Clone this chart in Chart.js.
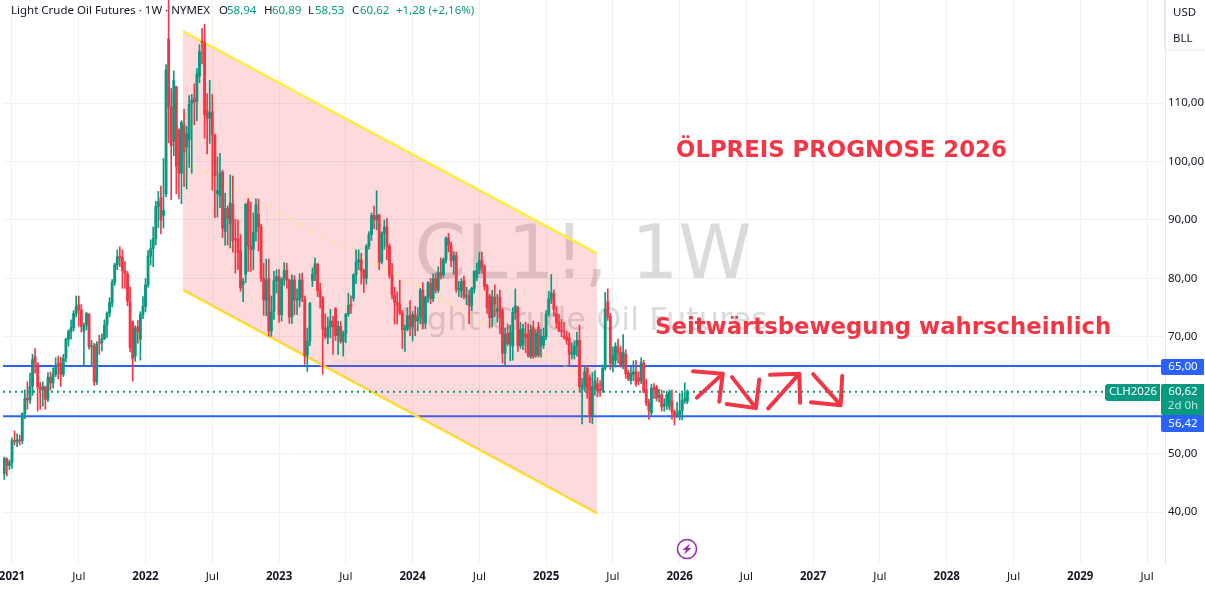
<!DOCTYPE html>
<html>
<head>
<meta charset="utf-8">
<style>
  html, body { margin: 0; padding: 0; background: #fff; overflow: hidden; }
  canvas { display: block; }
</style>
<script src="https://cdn.jsdelivr.net/npm/chart.js@4"></script>
</head>
<body>
<canvas id="chart" width="1205" height="589"></canvas>
<script>
// ── Data (weekly candles, week 0 = first week of 2021) ────────────────────────
const firstWeek = -3;

const opens = [
  46.6,49.1,48.0,48.5,52.3,52.0,52.3,52.2,56.9,59.5,
  59.2,61.6,66.6,65.4,61.4,60.9,61.4,59.3,63.1,62.1,
  63.6,65.5,65.5,63.6,66.4,69.6,70.9,71.6,74.0,75.5,
  74.6,71.0,72.0,73.9,68.3,68.4,62.3,69.0,69.0,69.7,
  72.0,74.0,75.8,79.3,82.3,83.8,83.6,81.3,80.7,76.0,
  72.6,66.7,71.7,69.6,73.8,75.2,78.9,83.8,85.1,86.8,
  92.3,93.8,90.8,94.5,121.0,109.3,103.5,112.8,105.4,98.0,
  106.2,102.5,103.7,110.0,110.9,110.3,114.6,120.6,120.3,108.7,
  107.4,108.5,104.5,94.5,94.2,98.2,88.0,92.0,89.3,92.7,
  86.8,86.8,84.7,79.0,80.7,93.2,85.5,85.0,88.0,91.0,
  88.8,80.0,76.3,80.0,71.0,74.4,79.6,80.3,73.8,79.9,
  81.4,79.7,73.4,79.7,76.3,76.3,79.7,76.5,66.9,69.3,
  79.6,80.7,82.4,77.9,76.7,71.5,70.0,71.7,72.7,74.8,
  70.2,71.8,69.2,70.6,73.9,75.5,76.6,80.6,82.8,83.2,
  81.3,80.0,85.5,87.5,90.8,90.0,90.8,82.8,87.7,88.8,
  85.5,80.5,77.2,75.9,75.5,74.1,71.2,71.4,73.6,71.7,
  73.8,72.7,73.4,78.0,72.3,76.8,79.2,76.5,80.0,78.0,
  81.0,80.6,83.2,86.9,85.7,83.1,83.9,78.1,77.8,79.6,
  76.9,77.0,75.3,78.2,80.2,81.4,83.0,82.0,78.7,77.0,
  73.3,76.8,74.4,76.8,74.5,67.2,70.6,68.7,68.4,74.2,
  75.0,68.5,68.6,70.5,70.5,66.6,71.6,66.9,71.6,68.4,
  68.6,70.0,73.9,76.5,77.4,74.0,72.5,71.0,70.0,70.0,
  69.8,67.0,67.0,68.4,69.4,61.0,61.5,64.6,63.0,56.3,
  61.0,62.0,61.0,60.8,64.6,76.0,73.5,65.0,66.0,68.1,
  67.3,65.3,67.0,63.9,62.5,63.6,64.0,63.0,62.4,65.5,
  61.0,58.7,57.0,61.3,61.3,59.7,60.1,58.1,58.4,58.0,
  59.0,57.2,56.6,56.7,57.3,59.1,58.94
];
const highs = [
  49.4,49.3,48.9,52.7,53.9,53.4,53.2,57.0,60.9,62.3,
  63.8,67.0,68.0,65.6,62.2,62.3,61.6,63.9,64.0,64.7,
  66.4,66.7,66.5,67.0,69.8,71.2,72.9,74.5,77.0,77.0,
  75.5,72.4,74.2,74.0,69.4,68.9,69.2,70.3,70.5,72.9,
  74.3,76.7,79.8,82.6,84.9,85.4,84.9,82.9,81.2,78.5,
  72.7,71.9,72.8,74.3,76.9,80.0,84.8,86.6,88.8,93.2,
  94.9,95.8,100.5,116.6,130.5,112.5,115.5,112.9,105.6,107.0,
  109.0,106.0,111.3,111.5,113.3,115.9,120.0,122.8,123.5,111.6,
  113.9,111.5,104.7,100.8,101.4,98.5,94.6,92.4,97.7,97.5,
  90.1,90.0,87.5,80.0,92.8,93.7,93.0,91.2,93.6,93.6,
  89.3,82.6,83.3,83.3,77.0,81.2,81.5,81.5,80.1,82.7,
  82.6,79.9,80.6,80.5,78.2,80.8,80.9,77.0,71.5,75.9,
  81.8,83.5,82.6,79.2,76.9,73.9,73.4,74.7,73.5,75.0,
  72.7,72.6,71.0,74.0,77.5,77.0,80.8,84.9,84.9,84.3,
  81.6,85.8,88.0,91.2,92.4,95.0,91.0,88.0,90.0,90.3,
  85.9,82.6,78.5,77.7,79.7,74.5,72.0,75.0,76.2,74.4,
  75.2,75.0,78.3,79.3,77.0,79.5,80.0,80.8,80.9,82.0,
  83.5,83.5,87.1,87.7,86.2,84.6,84.5,79.5,80.0,80.4,
  78.5,78.0,78.5,81.3,82.6,84.5,84.5,82.3,79.0,77.3,
  78.0,78.9,77.3,78.0,74.9,71.5,72.2,72.0,75.0,78.2,
  75.2,72.5,72.2,72.5,72.2,72.0,72.7,71.2,72.5,71.3,
  71.5,74.5,77.8,80.7,78.0,75.2,73.8,73.0,72.5,71.0,
  70.7,69.0,69.3,70.8,72.0,62.9,64.9,65.0,63.5,63.9,
  64.2,63.0,62.5,65.2,77.6,78.2,74.0,68.3,69.0,69.6,
  68.4,70.4,67.8,64.3,64.8,65.9,66.0,64.0,66.4,66.0,
  62.7,59.3,61.9,62.0,61.7,61.0,60.9,59.4,60.7,60.9,
  60.9,57.5,58.8,60.3,60.4,62.1,60.89
];
const lows = [
  45.6,46.2,47.3,47.5,51.5,51.2,51.5,51.7,56.0,57.6,
  58.6,60.0,63.8,57.3,57.6,58.1,57.6,58.9,60.9,61.2,
  63.2,62.8,61.5,63.2,65.7,68.4,69.6,71.0,73.4,71.8,
  70.8,65.0,71.2,67.9,65.1,61.7,61.8,67.0,67.6,69.5,
  69.9,73.4,75.1,78.8,81.5,82.0,78.3,78.3,75.3,67.4,
  62.4,65.8,68.9,66.0,73.1,74.3,78.5,82.3,82.0,85.7,
  88.7,87.6,88.6,94.0,103.2,93.5,101.0,94.5,93.6,92.8,
  95.7,95.3,99.0,98.0,106.3,107.0,113.5,116.7,104.0,101.3,
  103.1,95.1,90.4,90.5,92.1,87.0,85.7,85.7,85.2,84.5,
  80.9,81.5,77.8,76.0,79.3,81.2,81.2,81.5,86.4,84.7,
  79.5,73.7,73.6,70.1,70.1,73.0,77.5,72.5,72.7,78.8,
  78.3,72.3,72.3,73.8,73.8,75.1,76.0,65.3,64.1,68.5,
  78.6,79.6,76.9,74.9,63.6,69.7,68.8,69.8,67.0,69.4,
  67.0,68.9,66.7,69.0,73.5,74.0,76.1,79.1,81.5,79.0,
  77.6,79.0,85.0,86.5,88.5,88.3,81.5,82.5,85.0,83.2,
  80.0,76.5,72.2,72.2,73.8,68.0,67.5,71.0,70.2,69.3,
  70.2,71.0,72.2,71.4,71.4,75.9,75.7,76.0,77.5,77.6,
  79.9,80.2,82.6,84.5,82.0,80.7,77.6,76.9,76.7,76.5,
  75.5,72.2,74.5,77.5,79.6,80.8,80.9,78.0,74.0,71.5,
  71.7,73.5,72.5,70.5,65.5,65.0,68.5,65.9,66.0,73.0,
  67.5,68.0,67.8,67.3,66.5,66.3,66.3,66.5,66.5,66.5,
  68.0,69.5,73.5,75.7,73.5,71.5,70.9,70.0,69.6,68.7,
  65.2,66.2,66.2,66.7,60.7,55.1,60.7,59.5,55.3,55.1,
  60.0,59.7,59.8,60.5,64.3,72.8,64.4,64.0,64.8,65.5,
  64.8,64.5,62.9,62.5,61.9,62.5,61.5,61.8,62.0,60.4,
  58.2,55.9,56.6,59.4,59.0,58.8,57.3,57.3,57.6,57.5,
  55.9,54.9,56.2,55.8,55.8,58.6,58.53
];
const closes = [
  49.2,48.0,48.5,52.2,52.1,52.3,52.2,56.9,59.4,59.2,
  61.5,66.1,65.6,61.4,61.0,61.5,59.3,63.1,62.1,63.6,
  64.9,65.0,63.6,66.3,69.6,70.9,71.6,74.0,75.2,74.6,
  71.8,71.9,74.0,68.3,68.4,62.3,68.7,68.9,69.7,72.0,
  74.0,75.9,79.3,82.3,83.7,83.5,81.3,80.8,76.1,68.2,
  66.3,71.5,70.9,73.8,75.2,78.9,83.8,85.1,86.8,92.3,
  93.1,90.0,91.6,115.7,109.3,102.7,113.9,99.2,98.0,106.7,
  101.6,104.7,109.8,110.5,110.2,115.0,118.8,120.4,108.0,107.4,
  108.4,104.5,97.6,95.0,98.0,88.6,91.9,90.2,92.9,86.4,
  86.6,84.4,78.4,79.5,92.7,85.5,84.9,87.9,92.6,88.8,
  80.0,76.3,79.6,71.0,74.3,79.6,80.3,73.8,79.9,81.3,
  79.7,73.4,79.7,76.3,76.3,79.7,76.7,66.7,69.3,75.7,
  80.7,82.5,77.9,76.8,71.3,70.0,71.7,72.7,71.7,70.2,
  71.8,69.2,70.6,73.9,75.4,75.2,80.6,82.8,83.2,81.3,
  80.0,85.5,87.5,90.8,90.0,90.8,82.8,87.7,88.8,85.5,
  80.5,77.2,75.9,75.5,74.1,71.2,71.4,73.6,71.7,73.8,
  72.7,73.4,78.0,72.3,76.8,79.2,76.5,80.0,78.0,81.0,
  80.6,83.2,86.9,85.7,83.1,83.9,78.1,78.3,79.4,76.9,
  77.0,75.3,78.3,81.2,81.3,83.1,81.9,78.6,75.0,73.3,
  76.8,75.6,74.8,73.2,67.2,70.4,68.9,70.7,74.2,75.3,
  68.5,71.3,71.4,69.9,66.8,71.2,66.6,70.6,66.8,70.0,
  70.1,73.9,76.5,77.5,74.7,72.4,71.0,70.9,69.9,69.4,
  67.0,67.3,68.4,69.4,61.5,61.6,64.0,61.0,56.5,61.5,
  62.5,60.8,60.8,64.6,74.7,73.4,65.5,66.8,68.4,67.2,
  65.2,67.4,63.7,62.8,63.7,64.0,61.9,62.4,65.6,60.5,
  58.7,57.4,61.2,60.9,59.5,60.0,58.0,58.5,60.1,60.5,
  57.2,56.4,56.8,57.3,59.1,59.4,60.62
];

const tickWeeks = [0, 26, 52, 78, 104, 130, 156, 182, 208, 234, 260, 286, 312, 338, 364, 390, 416, 442];
const tickLabels = ['2021', 'Jul', '2022', 'Jul', '2023', 'Jul', '2024', 'Jul', '2025', 'Jul', '2026', 'Jul', '2027', 'Jul', '2028', 'Jul', '2029', 'Jul'];
const priceTicks = [40, 50, 60, 70, 80, 90, 100, 110];

const supportLevel = 56.42;
const resistLevel = 65;
const lastPrice = 60.62;

const channelWeeks = [66.6, 227.8];
const channelTop = [122.3, 84.3];
const channelBottom = [78.0, 39.8];
const channelMid = [100.15, 62.05];

const arrowWeeks = [265.2, 276.8, 275.4, null, 276.8, 266.7, null, 280.4, 289.7, null, 278.3, 289.7, 291.0, null,
  294.5, 306.6, null, 295.2, 306.6, 306.9, null, 312.0, 322.7, null, 311.1, 322.7, 323.3];
const arrowPrices = [64.1, 63.7, 58.9, null, 63.7, 59.6, null, 63.1, 57.8, null, 58.5, 57.8, 62.7, null,
  57.75, 63.7, null, 63.5, 63.7, 58.7, null, 63.6, 58.3, null, 58.8, 58.3, 63.3];

// ── Helpers ───────────────────────────────────────────────────────────────────
const GREEN = '#089981';
const RED = '#f23645';
const BLUE = '#2962ff';
const YELLOW = '#ffeb3b';
const GRID = '#f0f1f3';
const INK = '#131722';
const FONT = '"Noto Sans", sans-serif';
const HEAD_FONT = '"DejaVu Sans", sans-serif';

const weeks = opens.map((_, i) => firstWeek + i);
const candleColors = opens.map((o, i) => closes[i] >= o ? GREEN : RED);
const fmt = v => v.toFixed(2).replace('.', ',');

function hline(y, color, width, dash, order, toWeek) {
  return {
    type: 'line',
    data: [{ x: -3.5, y }, { x: toWeek || 449, y }],
    borderColor: color, borderWidth: width, borderDash: dash || [],
    pointRadius: 0, order,
  };
}

function channelLine(prices, color, width, dash, order, extra) {
  return Object.assign({
    type: 'line',
    data: channelWeeks.map((x, i) => ({ x, y: prices[i] })),
    borderColor: color, borderWidth: width, borderDash: dash || [],
    pointRadius: 0, order,
  }, extra || {});
}

function tag(ctx, x, y, w, h, color, radius) {
  ctx.fillStyle = color;
  ctx.beginPath();
  ctx.roundRect(x, y, w, h, radius);
  ctx.fill();
}

// ── Watermark behind the candles ──────────────────────────────────────────────
const watermark = {
  id: 'watermark',
  beforeDatasetsDraw(chart) {
    const { ctx } = chart;
    ctx.save();
    ctx.fillStyle = 'rgba(110,110,112,0.25)';
    ctx.textAlign = 'center';
    ctx.textBaseline = 'middle';
    ctx.font = '74px ' + HEAD_FONT;
    ctx.fillText('CL1!, 1W', 583, 259);
    ctx.font = '32px ' + HEAD_FONT;
    ctx.fillText('Light Crude Oil Futures', 584, 322);
    ctx.restore();
  },
};

// ── Texts, price tags and the legend row on top ───────────────────────────────
const overlay = {
  id: 'overlay',
  afterDraw(chart) {
    const { ctx } = chart;
    ctx.save();
    ctx.textBaseline = 'middle';

    // headline texts
    ctx.fillStyle = RED;
    ctx.textAlign = 'left';
    ctx.font = 'bold 22.8px ' + HEAD_FONT;
    ctx.fillText('ÖLPREIS PROGNOSE 2026', 676, 151);
    ctx.fillText('Seitwärtsbewegung wahrscheinlich', 655, 328);

    // legend row
    ctx.font = '11.5px ' + FONT;
    const legend = [
      ['Light Crude Oil Futures · 1W · NYMEX', INK, 11], ['O', INK, 219], ['58,94', GREEN, 227], ['H', INK, 264], ['60,89', GREEN, 272],
      ['L', INK, 308], ['58,53', GREEN, 315], ['C', INK, 352], ['60,62', GREEN, 360], ['+1,28 (+2,16%)', GREEN, 396],
    ];
    legend.forEach(([t, c, x]) => {
      ctx.fillStyle = c;
      ctx.fillText(t, x, 11);
    });

    // currency box
    ctx.strokeStyle = '#e6e8ee';
    ctx.beginPath();
    ctx.roundRect(1164.5, -6, 50, 56, 5);
    ctx.stroke();
    ctx.fillStyle = INK;
    ctx.fillText('USD', 1173, 13);
    ctx.fillText('BLL', 1173, 39);

    // price tags
    tag(ctx, 1161, 359, 43, 16, BLUE, [2, 0, 0, 2]);
    tag(ctx, 1161, 415, 43, 17, BLUE, [2, 0, 0, 2]);
    tag(ctx, 1161, 384, 43, 31, GREEN, [2, 0, 0, 2]);
    tag(ctx, 1105, 384, 55, 17, GREEN, [3, 0, 0, 3]);
    ctx.fillStyle = '#fff';
    ctx.textAlign = 'center';
    ctx.fillText(fmt(resistLevel), 1183, 367);
    ctx.fillText(fmt(supportLevel), 1183, 424);
    ctx.fillText(fmt(lastPrice), 1183, 392);
    ctx.fillText('CLH2026', 1133, 392);
    ctx.fillStyle = 'rgba(255,255,255,0.75)';
    ctx.fillText('2d 0h', 1183, 406);

    // lightning marker
    ctx.fillStyle = '#fff';
    ctx.strokeStyle = '#9c27b0';
    ctx.lineWidth = 1.6;
    ctx.beginPath();
    ctx.arc(687, 549, 9.5, 0, Math.PI * 2);
    ctx.fill();
    ctx.stroke();
    ctx.fillStyle = '#9c27b0';
    ctx.beginPath();
    ctx.moveTo(690, 543.5);
    ctx.lineTo(682.5, 550);
    ctx.lineTo(686, 550);
    ctx.lineTo(684, 554.5);
    ctx.lineTo(691.5, 548);
    ctx.lineTo(688, 548);
    ctx.closePath();
    ctx.fill();

    ctx.restore();
  },
};

// ── Chart ─────────────────────────────────────────────────────────────────────
new Chart(document.getElementById('chart'), {
  type: 'bar',
  data: {
    datasets: [
      {
        type: 'line',
        data: arrowWeeks.map((x, i) => ({ x, y: arrowPrices[i] })),
        borderColor: RED, borderWidth: 4, borderCapStyle: 'round', borderJoinStyle: 'round',
        pointRadius: 0, spanGaps: false, order: 0,
      },
      {
        data: weeks.map((x, i) => ({ x, y: [opens[i], closes[i]] })),
        backgroundColor: candleColors, barThickness: 2.2, grouped: false, minBarLength: 1, order: 1,
      },
      {
        data: weeks.map((x, i) => ({ x, y: [lows[i], highs[i]] })),
        backgroundColor: candleColors, barThickness: 1, grouped: false, order: 2,
      },
      hline(lastPrice, GREEN, 2, [2, 4], 3, 428),
      channelLine(channelMid, 'rgba(255,235,59,0.8)', 1, [5, 7], 4),
      channelLine(channelTop, YELLOW, 2.5, [], 5, {
        fill: '+1', backgroundColor: 'rgba(242,54,69,0.18)',
      }),
      channelLine(channelBottom, YELLOW, 2.5, [], 5),
      hline(resistLevel, BLUE, 2, [], 6),
      hline(supportLevel, BLUE, 2, [], 6),
    ],
  },
  options: {
    responsive: false,
    animation: false,
    events: [],
    layout: { padding: { left: 3, right: 0, top: 0, bottom: 0 } },
    plugins: { legend: { display: false }, tooltip: { enabled: false } },
    scales: {
      x: {
        type: 'linear',
        min: -3.5,
        max: 449,
        offset: false,
        afterBuildTicks: s => { s.ticks = tickWeeks.map(value => ({ value })); },
        afterFit: s => { s.height = 25; s.paddingLeft = 0; s.paddingRight = 0; },
        grid: { color: GRID, drawTicks: false, offset: false },
        border: { display: false },
        ticks: {
          autoSkip: false,
          maxRotation: 0,
          padding: 6,
          color: INK,
          font: ctx => ({ family: FONT, size: 11.5, weight: /^\d/.test(tickLabels[ctx.index]) ? 'bold' : 'normal' }),
          callback: (v, i) => tickLabels[i],
        },
      },
      y: {
        position: 'right',
        min: 31.12,
        max: 127.65,
        afterBuildTicks: s => { s.ticks = priceTicks.map(value => ({ value })); },
        afterFit: s => { s.width = 40; s.paddingTop = 0; s.paddingBottom = 0; },
        grid: { color: GRID, drawTicks: false },
        border: { color: '#e6e8ee' },
        ticks: {
          padding: 3,
          color: INK,
          font: { family: FONT, size: 11.5 },
          callback: v => fmt(v),
        },
      },
    },
  },
  plugins: [watermark, overlay],
});
</script>
</body>
</html>
